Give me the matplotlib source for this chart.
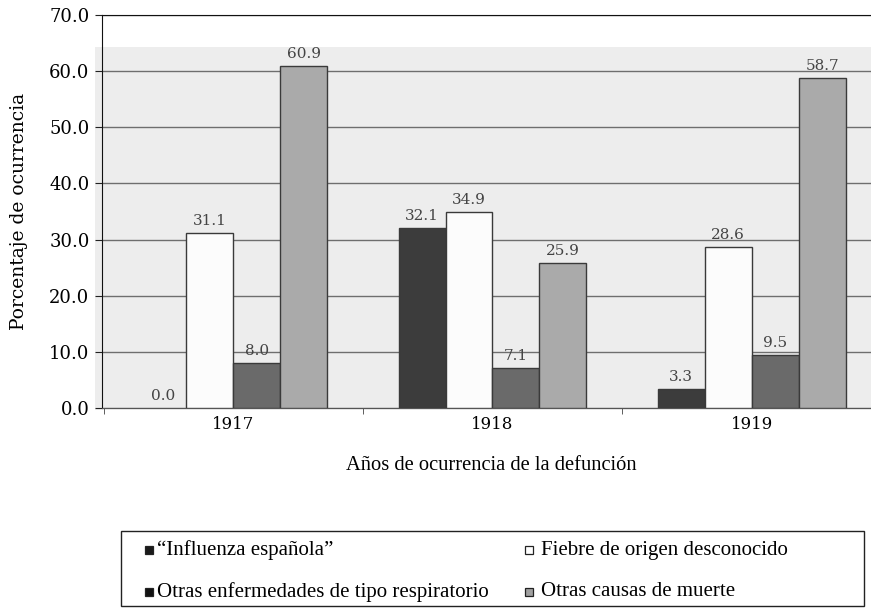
import matplotlib
matplotlib.use("Agg")
import matplotlib.pyplot as plt
from matplotlib.patches import Rectangle
import numpy as np

years = ["1917", "1918", "1919"]
series_names = ["\u201cInfluenza espa\u00f1ola\u201d", "Fiebre de origen desconocido",
                "Otras enfermedades de tipo respiratorio", "Otras causas de muerte"]
influenza = [0.0, 32.1, 3.3]
fiebre = [31.1, 34.9, 28.6]
respiratorio = [8.0, 7.1, 9.5]
otras = [60.9, 25.9, 58.7]
yticks = [0, 10, 20, 30, 40, 50, 60, 70]

values = [influenza, fiebre, respiratorio, otras]
colors = ["#3c3c3c", "#fcfcfc", "#6a6a6a", "#aaaaaa"]
legend_colors = ["#1a1a1a", "#ffffff", "#111111", "#a0a0a0"]

fig = plt.figure(figsize=(8.71, 6.11), dpi=100)
fig.patch.set_facecolor("white")

# scanned page grey tone behind plot area
fig.add_artist(Rectangle((95 / 871, 1 - 410 / 611), (871 - 95) / 871, (410 - 47) / 611,
                         transform=fig.transFigure, facecolor="#ededed", edgecolor="none", zorder=0))

ax = fig.add_axes([102 / 871, 1 - 408 / 611, 1 - 102 / 871 + 0.01, (408 - 15) / 611])
ax.set_facecolor("none")
ax.set_zorder(1)

x = np.arange(len(years))
w = 0.181
offsets = [-1.5, -0.5, 0.5, 1.5]
for vals, col, off in zip(values, colors, offsets):
    bars = ax.bar(x + off * w, vals, width=w, color=col, edgecolor="#3a3a3a", linewidth=1.0, zorder=3)
    for b, v in zip(bars, vals):
        if v == 0:
            b.set_linewidth(0)
        ax.text(b.get_x() + b.get_width() / 2, v + 0.9, f"{v:.1f}", ha="center", va="bottom",
                fontsize=11, family="DejaVu Serif", color="#444444", zorder=4)

ax.set_xlim(-0.506, 2.46 + 0.01 * 871 / 259)
ax.set_ylim(0, 70)
ax.set_yticks(yticks)
ax.set_yticklabels([f"{t:.1f}" for t in yticks], family="DejaVu Serif", fontsize=13)
ax.set_xticks(x)
ax.set_xticklabels(years, family="DejaVu Serif", fontsize=12)
ax.tick_params(axis="x", which="major", length=0, pad=6)
ax.set_xticks([-0.5, 0.5, 1.5], minor=True)
ax.tick_params(axis="x", which="minor", length=4, color="#444444")
ax.tick_params(axis="y", length=5, pad=4, color="#222222")
ax.grid(axis="y", color="#6e6e6e", linewidth=1.0, zorder=1)
ax.set_axisbelow(True)
ax.spines["right"].set_visible(False)
ax.spines["top"].set_color("#111111")
ax.spines["left"].set_color("#111111")
ax.spines["bottom"].set_color("#555555")

ax.set_ylabel("Porcentaje de ocurrencia", family="DejaVu Serif", fontsize=13.5, labelpad=15)
fig.text(491 / 871, 1 - 466 / 611, "A\u00f1os de ocurrencia de la defunci\u00f3n", ha="center", va="center",
         family="Liberation Serif", fontsize=14.8)

# legend box
fig.add_artist(Rectangle((121 / 871, 1 - 606 / 611), (864 - 121) / 871, (606 - 531) / 611,
                         transform=fig.transFigure, facecolor="white", edgecolor="#222222",
                         linewidth=1.0, zorder=2))
pos = [(149, 550), (529, 550), (149, 592), (529, 592)]
text_gap = [8, 12, 8, 12]
for idx, (px, py) in enumerate(pos):
    s = 8
    fig.add_artist(Rectangle(((px - s / 2) / 871, 1 - (py + s / 2) / 611), s / 871, s / 611,
                             transform=fig.transFigure, facecolor=legend_colors[idx],
                             edgecolor="#222222", linewidth=0.9, zorder=3))
    fig.text((px + text_gap[idx]) / 871, 1 - py / 611, series_names[idx], ha="left", va="center",
             family="Liberation Serif", fontsize=15, zorder=3)

fig.savefig("out.png", dpi=100)
